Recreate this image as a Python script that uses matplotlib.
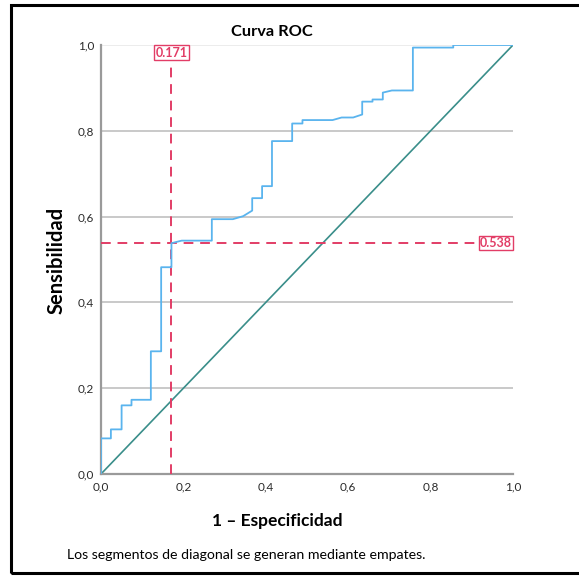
import matplotlib
matplotlib.use("Agg")
from matplotlib import pyplot as plt
from matplotlib.patches import Rectangle

plt.rcParams['font.family'] = ['Lato', 'DejaVu Sans']

# puntos de la curva ROC (1 - especificidad, sensibilidad)
fpr = [0.0, 0.0, 0.024, 0.024, 0.050, 0.050, 0.074, 0.074, 0.121, 0.121,
       0.146, 0.146, 0.171, 0.171, 0.196, 0.269, 0.269, 0.320, 0.345, 0.367,
       0.367, 0.391, 0.391, 0.415, 0.415, 0.464, 0.464, 0.489, 0.489, 0.562,
       0.584, 0.612, 0.634, 0.634, 0.659, 0.659, 0.684, 0.684, 0.706, 0.757,
       0.757, 0.855, 0.855, 1.0]
tpr = [0.0, 0.083, 0.083, 0.104, 0.104, 0.160, 0.160, 0.173, 0.173, 0.286,
       0.286, 0.482, 0.482, 0.538, 0.544, 0.544, 0.594, 0.594, 0.601, 0.614,
       0.643, 0.643, 0.671, 0.671, 0.776, 0.776, 0.817, 0.817, 0.825, 0.825,
       0.831, 0.831, 0.838, 0.868, 0.868, 0.873, 0.873, 0.889, 0.894, 0.894,
       0.994, 0.994, 1.0, 1.0]
diagonal = [0.0, 1.0]
corte_x = 0.171
corte_y = 0.538
ticks = [0.0, 0.2, 0.4, 0.6, 0.8, 1.0]
tick_labels = ["0,0", "0,2", "0,4", "0,6", "0,8", "1,0"]

W, H = 579, 576
fig = plt.figure(figsize=(W / 100, H / 100), dpi=100)
ax = fig.add_axes([101 / W, 1 - 474 / H, 412 / W, 429 / H])

rojo = "#e23d66"
for y in [0.2, 0.4, 0.6, 0.8]:
    ax.axhline(y, color="#c9c9c9", lw=1.4, zorder=1)
ax.axhline(1.0, color="#ececec", lw=1.4, zorder=1)

ax.plot(diagonal, diagonal, color="#3a8e8a", lw=1.2, zorder=2)
ax.plot([corte_x, corte_x], [0, 0.975], color=rojo, lw=1.4, ls=(0, (5, 3.5)), zorder=3)
ax.plot([0, 0.915], [corte_y, corte_y], color=rojo, lw=1.4, ls=(0, (5, 3.5)), zorder=3)
ax.plot(fpr, tpr, color="#5ab4ee", lw=1.3, zorder=4)

caja = dict(boxstyle="square,pad=0.1", fc="white", ec=rojo, lw=1.0)
ax.text(corte_x, 0.982, f"{corte_x:.3f}", color=rojo, fontsize=9, fontweight="bold",
        ha="center", va="center", bbox=caja, zorder=5)
ax.text(0.997, corte_y, f"{corte_y:.3f}", color=rojo, fontsize=9, fontweight="bold",
        ha="right", va="center", bbox=caja, zorder=5)

ax.set_xlim(0, 1)
ax.set_ylim(0, 1)
ax.set_xticks(ticks)
ax.set_xticklabels(tick_labels)
ax.set_yticks(ticks)
ax.set_yticklabels(tick_labels)
ax.tick_params(length=0, labelsize=8.5, colors="#2a2a2a", pad=5)
for s in ["top", "right"]:
    ax.spines[s].set_visible(False)
for s in ["left", "bottom"]:
    ax.spines[s].set_color("#9a9a9a")
    ax.spines[s].set_linewidth(1.6)

fig.text(272 / W, 1 - 32 / H, "Curva ROC", fontsize=11.8, fontweight="bold",
         ha="center", va="center")
fig.text(277 / W, 1 - 521 / H, "1 – Especificidad", fontsize=12.5, fontweight="bold",
         ha="center", va="center")
fig.text(57 / W, 1 - 260 / H, "Sensibilidad", fontsize=14.5, fontweight="bold",
         ha="center", va="center", rotation=90)
fig.text(67 / W, 1 - 555 / H, "Los segmentos de diagonal se generan mediante empates.",
         fontsize=10.2, ha="left", va="center")

fig.patches.append(Rectangle((11 / W, 3 / H), 1.0, 568 / H, transform=fig.transFigure,
                             fill=False, ec="black", lw=2.2))

fig.savefig("out.png", dpi=100)
